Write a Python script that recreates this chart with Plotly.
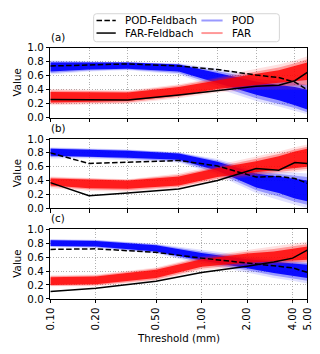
import math
import plotly.graph_objects as go

# ---------------- data ----------------
X_AB = [0.05, 0.1, 0.2, 0.5, 1, 2, 3, 4, 5]
X_C = [0.1, 0.2, 0.5, 1, 2, 3, 4, 5]
TICKS_AB = [0.05, 0.1, 0.2, 0.5, 1, 2, 4, 5]
TICKS_C = [0.1, 0.2, 0.5, 1, 2, 4, 5]
TICK_LABELS_C = ["0.10", "0.20", "0.50", "1.00", "2.00", "4.00", "5.00"]
Y_TICKS = [0.0, 0.2, 0.4, 0.6, 0.8, 1.0]
Y_TICK_LABELS = ["0.0", "0.2", "0.4", "0.6", "0.8", "1.0"]
PANEL_LABELS = ["(a)", "(b)", "(c)"]

# Feldbach reference curves
POD_FB_A = [0.74, 0.75, 0.77, 0.74, 0.69, 0.61, 0.575, 0.51, 0.40]
FAR_FB_A = [0.26, 0.255, 0.255, 0.325, 0.39, 0.45, 0.465, 0.53, 0.65]
POD_FB_B = [0.80, 0.646, 0.664, 0.69, 0.61, 0.45, 0.46, 0.43, 0.36]
FAR_FB_B = [0.37, 0.18, 0.218, 0.278, 0.40, 0.575, 0.55, 0.66, 0.645]
POD_FB_C = [0.71, 0.718, 0.668, 0.585, 0.515, 0.48, 0.446, 0.38]
FAR_FB_C = [0.107, 0.154, 0.255, 0.38, 0.47, 0.53, 0.585, 0.70]

# Ensemble envelopes: outer (faint), mid and core (dense) bounds
POD_A_OUT_LO = [0.62, 0.66, 0.68, 0.62, 0.42, 0.24, 0.16, 0.10, 0.05]
POD_A_MID_LO = [0.64, 0.675, 0.69, 0.64, 0.46, 0.28, 0.20, 0.14, 0.08]
POD_A_CORE_LO = [0.66, 0.69, 0.70, 0.66, 0.50, 0.33, 0.25, 0.18, 0.12]
POD_A_CORE_HI = [0.79, 0.79, 0.79, 0.76, 0.64, 0.52, 0.47, 0.44, 0.40]
POD_A_MID_HI = [0.805, 0.80, 0.795, 0.77, 0.67, 0.56, 0.52, 0.50, 0.47]
POD_A_OUT_HI = [0.82, 0.81, 0.80, 0.78, 0.70, 0.60, 0.56, 0.55, 0.54]
FAR_A_OUT_LO = [0.18, 0.19, 0.20, 0.28, 0.36, 0.40, 0.40, 0.40, 0.40]
FAR_A_MID_LO = [0.20, 0.21, 0.22, 0.30, 0.385, 0.435, 0.45, 0.46, 0.47]
FAR_A_CORE_LO = [0.22, 0.23, 0.24, 0.32, 0.41, 0.47, 0.50, 0.52, 0.54]
FAR_A_CORE_HI = [0.37, 0.37, 0.36, 0.44, 0.54, 0.63, 0.68, 0.74, 0.79]
FAR_A_MID_HI = [0.39, 0.385, 0.375, 0.46, 0.56, 0.665, 0.72, 0.78, 0.835]
FAR_A_OUT_HI = [0.41, 0.40, 0.39, 0.48, 0.58, 0.70, 0.76, 0.82, 0.88]

POD_B_OUT_LO = [0.72, 0.72, 0.70, 0.66, 0.48, 0.22, 0.12, 0.05, 0.00]
POD_B_MID_LO = [0.74, 0.735, 0.715, 0.68, 0.51, 0.26, 0.17, 0.095, 0.05]
POD_B_CORE_LO = [0.76, 0.75, 0.73, 0.70, 0.54, 0.30, 0.22, 0.14, 0.10]
POD_B_CORE_HI = [0.86, 0.85, 0.83, 0.79, 0.67, 0.50, 0.46, 0.43, 0.40]
POD_B_MID_HI = [0.87, 0.86, 0.84, 0.80, 0.69, 0.53, 0.495, 0.47, 0.45]
POD_B_OUT_HI = [0.88, 0.87, 0.85, 0.81, 0.71, 0.56, 0.53, 0.51, 0.50]
FAR_B_OUT_LO = [0.29, 0.25, 0.24, 0.29, 0.40, 0.46, 0.50, 0.52, 0.54]
FAR_B_MID_LO = [0.31, 0.27, 0.26, 0.31, 0.425, 0.49, 0.53, 0.55, 0.57]
FAR_B_CORE_LO = [0.33, 0.29, 0.28, 0.33, 0.45, 0.52, 0.56, 0.58, 0.60]
FAR_B_CORE_HI = [0.43, 0.41, 0.40, 0.46, 0.58, 0.68, 0.75, 0.82, 0.86]
FAR_B_MID_HI = [0.445, 0.425, 0.41, 0.48, 0.60, 0.71, 0.785, 0.85, 0.89]
FAR_B_OUT_HI = [0.46, 0.44, 0.42, 0.50, 0.62, 0.74, 0.82, 0.88, 0.92]

POD_C_OUT_LO = [0.74, 0.73, 0.65, 0.50, 0.38, 0.30, 0.26, 0.22]
POD_C_MID_LO = [0.75, 0.74, 0.665, 0.525, 0.41, 0.335, 0.295, 0.26]
POD_C_CORE_LO = [0.76, 0.75, 0.68, 0.55, 0.44, 0.37, 0.33, 0.30]
POD_C_CORE_HI = [0.84, 0.83, 0.77, 0.66, 0.57, 0.53, 0.51, 0.49]
POD_C_MID_HI = [0.85, 0.84, 0.78, 0.68, 0.595, 0.555, 0.535, 0.515]
POD_C_OUT_HI = [0.86, 0.85, 0.79, 0.70, 0.62, 0.58, 0.56, 0.54]
FAR_C_OUT_LO = [0.18, 0.18, 0.26, 0.41, 0.47, 0.49, 0.50, 0.51]
FAR_C_MID_LO = [0.19, 0.195, 0.28, 0.435, 0.495, 0.515, 0.525, 0.535]
FAR_C_CORE_LO = [0.20, 0.21, 0.30, 0.46, 0.52, 0.54, 0.55, 0.56]
FAR_C_CORE_HI = [0.31, 0.32, 0.42, 0.57, 0.65, 0.68, 0.72, 0.75]
FAR_C_MID_HI = [0.325, 0.335, 0.435, 0.59, 0.675, 0.715, 0.755, 0.785]
FAR_C_OUT_HI = [0.34, 0.35, 0.45, 0.61, 0.70, 0.75, 0.79, 0.82]

# ---------------- layout helpers ----------------
W, H = 320, 354
FONT = "DejaVu Sans"
FS = 10.3


def px(x):
    return x / W


def py(y):
    return 1 - y / H


X_DOM = [px(45), px(312)]
Y_DOMS = [[py(115.7), py(43.3)], [py(209.3), py(137.7)], [py(303.2), py(231)]]

panels = [
    (X_AB, TICKS_AB, POD_FB_A, FAR_FB_A,
     (POD_A_OUT_LO, POD_A_MID_LO, POD_A_CORE_LO, POD_A_CORE_HI, POD_A_MID_HI, POD_A_OUT_HI),
     (FAR_A_OUT_LO, FAR_A_MID_LO, FAR_A_CORE_LO, FAR_A_CORE_HI, FAR_A_MID_HI, FAR_A_OUT_HI)),
    (X_AB, TICKS_AB, POD_FB_B, FAR_FB_B,
     (POD_B_OUT_LO, POD_B_MID_LO, POD_B_CORE_LO, POD_B_CORE_HI, POD_B_MID_HI, POD_B_OUT_HI),
     (FAR_B_OUT_LO, FAR_B_MID_LO, FAR_B_CORE_LO, FAR_B_CORE_HI, FAR_B_MID_HI, FAR_B_OUT_HI)),
    (X_C, TICKS_C, POD_FB_C, FAR_FB_C,
     (POD_C_OUT_LO, POD_C_MID_LO, POD_C_CORE_LO, POD_C_CORE_HI, POD_C_MID_HI, POD_C_OUT_HI),
     (FAR_C_OUT_LO, FAR_C_MID_LO, FAR_C_CORE_LO, FAR_C_CORE_HI, FAR_C_MID_HI, FAR_C_OUT_HI)),
]

fig = go.Figure()


def band(x, lo, hi, color, xa, ya):
    fig.add_trace(go.Scatter(
        x=list(x) + list(x)[::-1], y=list(hi) + list(lo)[::-1],
        mode="lines", fill="toself", fillcolor=color,
        line=dict(width=0, color=color), hoverinfo="skip",
        showlegend=False, xaxis=xa, yaxis=ya))


layout = dict(
    width=W, height=H, margin=dict(l=0, r=0, t=0, b=0),
    paper_bgcolor="white", plot_bgcolor="white",
    font=dict(family=FONT, size=FS, color="black"),
    showlegend=False,
)
annotations = []
shapes = []
EPS = 1e-4

for i, (x, ticks, pod_fb, far_fb, pod_env, far_env) in enumerate(panels):
    n = "" if i == 0 else str(i + 1)
    xa, ya = "x" + n, "y" + n
    # ensembles
    band(x, pod_env[0], pod_env[5], "rgba(60,60,255,0.16)", xa, ya)
    band(x, pod_env[1], pod_env[4], "rgba(20,20,255,0.35)", xa, ya)
    band(x, pod_env[2], pod_env[3], "rgba(0,0,255,0.92)", xa, ya)
    band(x, far_env[0], far_env[5], "rgba(255,60,60,0.16)", xa, ya)
    band(x, far_env[1], far_env[4], "rgba(255,20,20,0.35)", xa, ya)
    band(x, far_env[2], far_env[3], "rgba(255,0,0,0.82)", xa, ya)
    # Feldbach curves
    fig.add_trace(go.Scatter(x=x, y=pod_fb, mode="lines", name="POD-Feldbach",
                             line=dict(color="black", width=1.5, dash="5.5px,2.4px"),
                             showlegend=False, xaxis=xa, yaxis=ya))
    fig.add_trace(go.Scatter(x=x, y=far_fb, mode="lines", name="FAR-Feldbach",
                             line=dict(color="black", width=1.5),
                             showlegend=False, xaxis=xa, yaxis=ya))

    last = i == 2
    layout["xaxis" + n] = dict(
        domain=X_DOM, anchor=ya, type="log",
        range=[math.log10(x[0]) - EPS, math.log10(5) + EPS],
        tickmode="array", tickvals=ticks,
        ticktext=TICK_LABELS_C if last else [""] * len(ticks),
        showticklabels=last, tickangle=-90, ticklabeloverflow="allow",
        ticks="outside", ticklen=3.5, tickwidth=0.8, tickcolor="black",
        showline=True, linecolor="black", linewidth=1, mirror=True,
        showgrid=True, gridcolor="#b0b0b0", gridwidth=0.8, griddash="1px,1.6px",
        zeroline=False, tickfont=dict(size=FS, family=FONT, color="black"),
    )
    layout["yaxis" + n] = dict(
        domain=Y_DOMS[i], anchor=xa, range=[0, 1],
        tickmode="array", tickvals=Y_TICKS, ticktext=Y_TICK_LABELS,
        ticks="outside", ticklen=3.5, tickwidth=0.8, tickcolor="black",
        showline=True, linecolor="black", linewidth=1, mirror=True,
        showgrid=True, gridcolor="#b0b0b0", gridwidth=0.8, griddash="1px,1.6px",
        zeroline=False, tickfont=dict(size=FS, family=FONT, color="black"),
    )
    # panel label
    annotations.append(dict(text=PANEL_LABELS[i], xref="paper", yref="paper",
                            x=px(44), y=Y_DOMS[i][1] + 3 / H, xanchor="left",
                            yanchor="bottom", showarrow=False,
                            font=dict(size=FS, family=FONT, color="black")))
    # y title
    annotations.append(dict(text="Value", xref="paper", yref="paper",
                            x=px(10), y=(Y_DOMS[i][0] + Y_DOMS[i][1]) / 2,
                            textangle=-90, showarrow=False,
                            xanchor="center", yanchor="middle",
                            font=dict(size=FS, family=FONT, color="black")))

annotations.append(dict(text="Threshold (mm)", xref="paper", yref="paper",
                        x=px(178.5), y=py(344), xanchor="center", yanchor="middle",
                        showarrow=False, font=dict(size=FS, family=FONT, color="black")))

# ---------------- legend (drawn manually, matplotlib-like) ----------------
bx0, bx1, by0, by1, r = 90, 283, 8, 37, 3
rx, ry = r / W, r / H
path = (f"M {px(bx0)+rx},{py(by0)} L {px(bx1)-rx},{py(by0)} "
        f"Q {px(bx1)},{py(by0)} {px(bx1)},{py(by0)-ry} "
        f"L {px(bx1)},{py(by1)+ry} Q {px(bx1)},{py(by1)} {px(bx1)-rx},{py(by1)} "
        f"L {px(bx0)+rx},{py(by1)} Q {px(bx0)},{py(by1)} {px(bx0)},{py(by1)+ry} "
        f"L {px(bx0)},{py(by0)-ry} Q {px(bx0)},{py(by0)} {px(bx0)+rx},{py(by0)} Z")
shapes.append(dict(type="path", xref="paper", yref="paper", path=path,
                   line=dict(color="#d5d5d5", width=1), fillcolor="rgba(255,255,255,0.8)"))

legend_items = [
    ("POD-Feldbach", 93, 113, 15, dict(color="black", width=1.5, dash="5.5px,2.4px")),
    ("FAR-Feldbach", 93, 113, 28, dict(color="black", width=1.5)),
    ("POD", 202, 224, 15, dict(color="rgba(0,0,255,0.4)", width=2)),
    ("FAR", 202, 224, 28, dict(color="rgba(255,0,0,0.4)", width=2)),
]
for label, x0, x1, yy, ln in legend_items:
    shapes.append(dict(type="line", xref="paper", yref="paper",
                       x0=px(x0), x1=px(x1), y0=py(yy), y1=py(yy), line=ln))
    annotations.append(dict(text=label, xref="paper", yref="paper",
                            x=px(x1 + 8), y=py(yy), xanchor="left", yanchor="middle",
                            showarrow=False,
                            font=dict(size=FS, family=FONT, color="black")))

layout["annotations"] = annotations
layout["shapes"] = shapes
fig.update_layout(**layout)

fig.write_html("out.html", config={"displayModeBar": False},
               post_script="document.body.style.margin='0';")
